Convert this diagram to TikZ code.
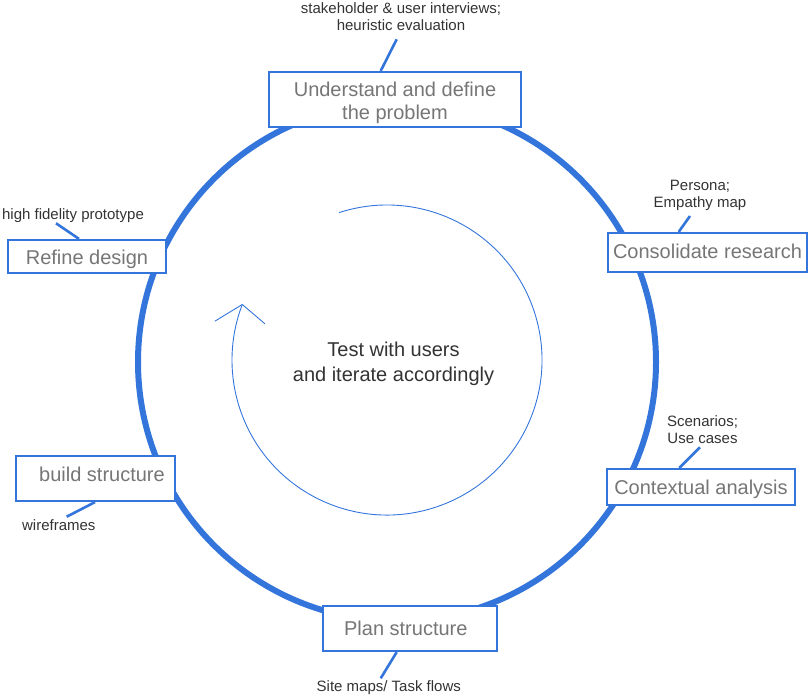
\documentclass[tikz,border=0pt]{standalone}
\usepackage{fontspec}
\setmainfont{Liberation Sans}
\definecolor{cblue}{RGB}{51,117,219}
\definecolor{lblgray}{RGB}{118,118,118}
\definecolor{anngray}{RGB}{51,51,51}
\begin{document}
\begin{tikzpicture}[x=1pt,y=-1pt,
  box/.style={draw=cblue, line width=2.2pt, fill=white, inner sep=0pt,
    font=\fontsize{20}{22.3}\selectfont, text=lblgray, align=center},
  ann/.style={font=\fontsize{15}{16.7}\selectfont, text=anngray, align=center,
    inner sep=0pt, anchor=base},
  conn/.style={draw=cblue, line width=2.6pt},
  thinarc/.style={draw=cblue, line width=0.9pt}
]
\useasboundingbox (0,0) rectangle (808,696);
% big cycle
\draw[cblue, line width=6pt] (397,362) circle[radius=259pt];
% inner iteration arrow
\draw[thinarc] (339.1,212.6) arc[start angle=108, end angle=-201, radius=155pt] coordinate (tip);
\draw[thinarc] (tip) -- ++(-27.4,16.7);
\draw[thinarc] (tip) -- ++(22.6,19.3);
\node[font=\fontsize{20}{25}\selectfont, text=anngray, align=center, inner sep=0pt, anchor=base] (ct) at (393.5,381.7) {Test with users\\and iterate accordingly};
% boxes
\node[box, minimum width=252pt, text height=47pt, text depth=8pt] (b1) at (395,99.5) {Understand and define\\the problem};
\node[box, minimum width=158pt, text height=24pt, text depth=9pt] (b2) at (87,256.5) {Refine design};
\node[box, minimum width=199pt, text height=25pt, text depth=14pt] (b3) at (707.5,252.5) {Consolidate research};
\node[box, minimum width=188pt, text height=25.3pt, text depth=10.7pt] (b4) at (701,487) {Contextual analysis};
\node[box, minimum width=159pt, text height=25.7pt, text depth=19.3pt] (b5) at (95.5,478.5) {\hspace*{13pt}build structure};
\node[box, minimum width=174pt, text height=29pt, text depth=16pt] (b6) at (410,628.5) {Plan structure\hspace*{8.4pt}};
% annotations
\node[ann] (a1) at (401,30) {stakeholder \& user interviews;\\heuristic evaluation};
\node[ann] (a2) at (73,219.3) {high fidelity prototype};
\node[ann] (a3) at (700,207.3) {Persona;\\Empathy map};
\node[ann] (a4) at (702.5,443.3) {Scenarios;\\Use cases};
\node[ann] (a5) at (58.8,530.7) {wireframes};
\node[ann] (a6) at (388.8,691.7) {Site maps/ Task flows};
% connector free ends
\coordinate (e1) at (396.7,39.3);
\coordinate (e2) at (56,223.3);
\coordinate (e3) at (690,216);
\coordinate (e4) at (700,447.3);
\coordinate (e5) at (66.7,516.7);
\coordinate (e6) at (380.7,678.3);
% connectors
\draw[conn] (e1) -- ([xshift=-14.3pt]b1.north);
\draw[conn] (e2) -- ([xshift=-8pt]b2.north);
\draw[conn] (e3) -- ([xshift=-28.8pt]b3.north);
\draw[conn] (e4) -- ([xshift=-21.7pt]b4.north);
\draw[conn] (e5) -- ([xshift=-0.5pt]b5.south);
\draw[conn] (e6) -- ([xshift=-13.3pt]b6.south);
\end{tikzpicture}
\end{document}
